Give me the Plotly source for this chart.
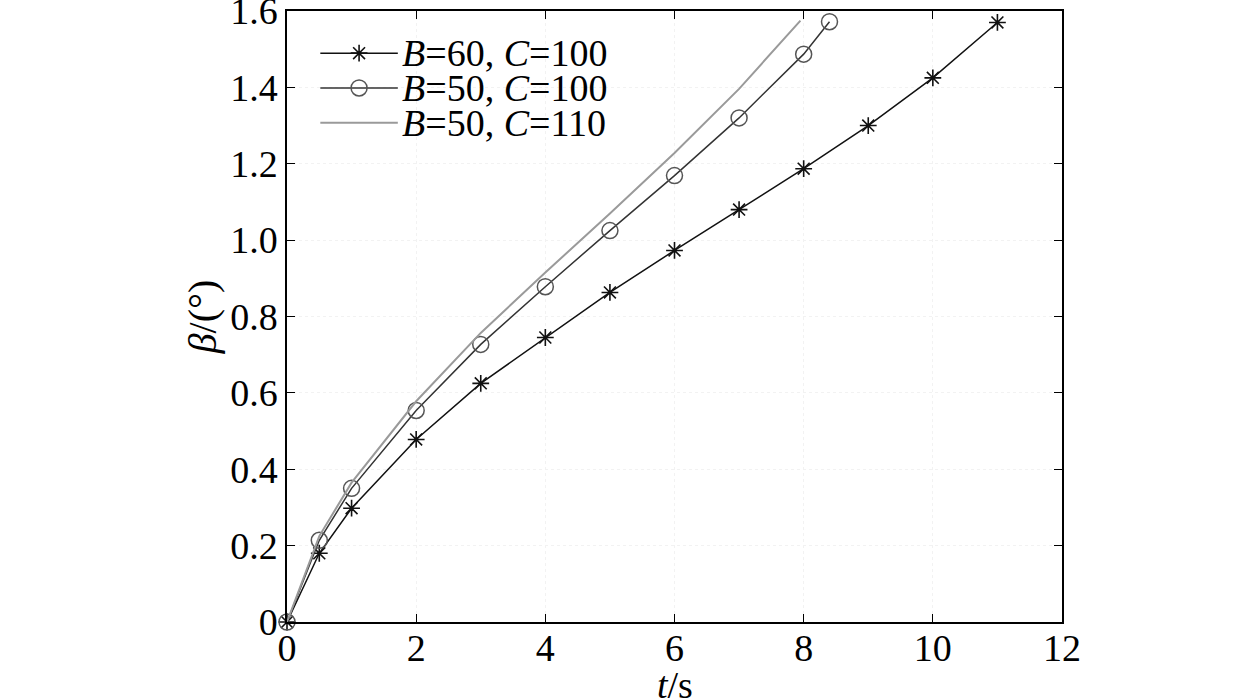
import plotly.graph_objects as go

# B=60, C=100 (asterisks)
t_b60 = [0, 0.5, 1, 2, 3, 4, 5, 6, 7, 8, 9, 10, 11]
beta_b60 = [0, 0.18, 0.298, 0.478, 0.625, 0.745, 0.863, 0.973, 1.08, 1.187, 1.30, 1.425, 1.57]

# B=50, C=100 (circles)
t_b50 = [0, 0.5, 1, 2, 3, 4, 5, 6, 7, 8, 8.4]
beta_b50 = [0, 0.214, 0.35, 0.554, 0.727, 0.878, 1.025, 1.169, 1.32, 1.487, 1.572]

# B=50, C=110 (plain gray line)
t_c110 = [0, 0.5, 1, 2, 3, 4, 5, 6, 7, 7.95]
beta_c110 = [0, 0.225, 0.365, 0.578, 0.757, 0.915, 1.07, 1.228, 1.396, 1.575]

y_ticks = [0, 0.2, 0.4, 0.6, 0.8, 1.0, 1.2, 1.4, 1.6]
y_tick_text = ["0", "0.2", "0.4", "0.6", "0.8", "1.0", "1.2", "1.4", "1.6"]
x_ticks = [0, 2, 4, 6, 8, 10, 12]

legend_names = ["<i>B</i>=60, <i>C</i>=100", "<i>B</i>=50, <i>C</i>=100", "<i>B</i>=50, <i>C</i>=110"]

FONT = "Liberation Serif"
FSIZE = 38
styles = [
    dict(line=dict(color="#111111", width=1.5),
         marker=dict(symbol="asterisk-open", size=14, color="#111111",
                     line=dict(color="#111111", width=1.6))),
    dict(line=dict(color="#333333", width=1.5),
         marker=dict(symbol="circle-open", size=16, color="#555555",
                     line=dict(color="#555555", width=1.5))),
    dict(line=dict(color="#9a9a9a", width=2), marker=None),
]

fig = go.Figure()
series = [(t_b60, beta_b60), (t_b50, beta_b50), (t_c110, beta_c110)]
for (xs, ys), st in zip(series, styles):
    fig.add_trace(go.Scatter(
        x=xs, y=ys,
        mode="lines+markers" if st["marker"] else "lines",
        line=st["line"],
        marker=st["marker"],
        cliponaxis=False,
        showlegend=False,
    ))

# hand-made legend on a hidden overlay axis (tighter row spacing than plotly's legend)
leg_rows = [0.931, 0.874, 0.817]
for name, row, st in zip(legend_names, leg_rows, styles):
    fig.add_trace(go.Scatter(
        x=[0.043, 0.143], y=[row, row], xaxis="x2", yaxis="y2",
        mode="lines", line=st["line"], showlegend=False, hoverinfo="skip",
    ))
    if st["marker"]:
        fig.add_trace(go.Scatter(
            x=[0.093], y=[row], xaxis="x2", yaxis="y2",
            mode="markers", marker=st["marker"], showlegend=False, hoverinfo="skip",
        ))
    fig.add_annotation(
        x=0.146, y=row, xref="x2", yref="y2", text=name, showarrow=False,
        xanchor="left", yanchor="middle", font=dict(family=FONT, size=FSIZE, color="black"),
    )

# x axis title placed by hand, slightly cut by the bottom edge as in the source
fig.add_annotation(
    x=0.5, y=-0.066, xref="paper", yref="paper", text="<i>t</i>/s", showarrow=False,
    xanchor="center", yanchor="top", font=dict(family=FONT, size=FSIZE, color="black"),
)

axis_common = dict(
    showline=True, linecolor="black", linewidth=1.5, mirror="ticks",
    ticks="inside", ticklen=8, tickwidth=1.2, tickcolor="black",
    showgrid=True, gridcolor="#f2f2f2", griddash="dot", gridwidth=1,
    zeroline=False, automargin=False, ticklabeloverflow="allow",
    tickfont=dict(family=FONT, size=FSIZE, color="black"),
)

fig.update_layout(
    width=1260, height=700,
    paper_bgcolor="white", plot_bgcolor="white",
    margin=dict(l=287, r=198, t=11, b=78),
    xaxis=dict(range=[0, 12], tickvals=x_ticks, ticklabelstandoff=-8, **axis_common),
    yaxis=dict(range=[0, 1.6], tickvals=y_ticks, ticktext=y_tick_text,
               title=dict(text="<i>β</i>/(°)", font=dict(family=FONT, size=FSIZE + 2, color="black"), standoff=1),
               **axis_common),
    xaxis2=dict(overlaying="x", range=[0, 1], visible=False),
    yaxis2=dict(overlaying="y", range=[0, 1], visible=False),
    showlegend=False,
)

fig.write_html("out.html", config={"displayModeBar": False},
               post_script="document.body.style.margin='0';")
